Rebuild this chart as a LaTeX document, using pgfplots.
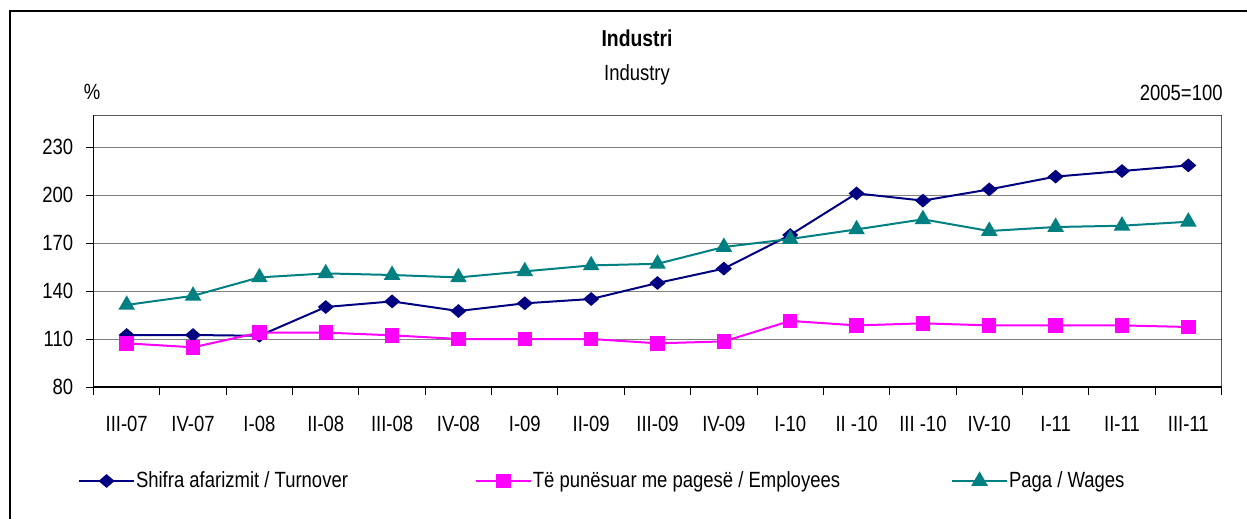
\documentclass[border=0pt]{standalone}
\usepackage{fontspec}
\setmainfont{Liberation Sans}[FakeStretch=0.84]
\usepackage{pgfplots}
\pgfplotsset{compat=1.18}

\definecolor{turnover}{RGB}{0,0,128}
\definecolor{employees}{RGB}{255,0,255}
\definecolor{wages}{RGB}{0,128,128}

\pgfplotstableread{
x turnover employees wages
0  112.5 107.3 131.3
1  112.5 104.8 137.0
2  112.0 114.0 148.5
3  130.0 114.0 151.0
4  133.5 112.3 150.0
5  127.5 110.0 148.5
6  132.3 110.0 152.3
7  135.0 110.0 156.0
8  145.0 107.3 157.0
9  154.0 108.5 167.5
10 175.0 121.3 172.5
11 201.0 118.5 178.5
12 196.5 119.8 184.8
13 203.5 118.5 177.5
14 211.5 118.5 180.0
15 215.0 118.5 180.8
16 218.5 117.5 183.3
}\industry

\begin{document}
\fontsize{11}{13}\selectfont
\begin{tikzpicture}
  \useasboundingbox (0pt,0pt) rectangle (623.5pt,-259.5pt);
  % outer frame, cut by the right and bottom edges
  \draw[line width=0.6pt] (5pt,-262pt) -- (5pt,-5.5pt) -- (626pt,-5.5pt);

  \node[anchor=base,font=\fontsize{11.5}{13}\selectfont\bfseries] at (318.5pt,-23.5pt) {Industri};
  \node[anchor=base] at (318.5pt,-40.5pt) {Industry};
  \node[anchor=base] at (46pt,-50pt) {\%};
  \node[anchor=base east,inner sep=0pt] at (611.5pt,-50.5pt) {2005=100};

  \begin{axis}[
    at={(46.75pt,-193.5pt)}, anchor=south west,
    scale only axis, width=564pt, height=136pt,
    xmin=-0.5, xmax=16.5, ymin=80, ymax=250,
    axis x line*=bottom, axis y line*=left,
    axis line style={-, black, line width=0.6pt},
    tick align=outside,
    major tick length=0pt, minor tick length=4pt,
    every tick/.style={black, line width=0.5pt},
    xtick={0,...,16},
    xticklabels={III-07,IV-07,I-08,II-08,III-08,IV-08,I-09,II-09,III-09,IV-09,I-10,II -10,III -10,IV-10,I-11,II-11,III-11},
    minor xtick={-0.5,0.5,...,16.5},
    ytick={80,110,...,230},
    minor ytick={80,110,...,230},
    ymajorgrids,
    major grid style={gray, line width=0.5pt},
    /pgf/number format/assume math mode=true,
    ticklabel style={font=\fontsize{11}{13}\selectfont, inner sep=0pt},
    xticklabel style={anchor=base, yshift=-22.35pt},
    yticklabel style={anchor=east, xshift=-10pt},
    every axis plot/.append style={line width=1pt},
    legend columns=3,
    legend style={at={(-0.0137,-0.3456)}, anchor=west, draw=none, fill=none,
      inner sep=0pt, outer sep=0pt,
      nodes={inner sep=0.5pt, anchor=west},
      /tikz/column 2/.style={column sep=63pt},
      /tikz/column 4/.style={column sep=55pt},
      font=\fontsize{11}{13}\selectfont},
    legend image code/.code={
      \draw[mark repeat=2,mark phase=2] plot coordinates {(0pt,0pt) (13.75pt,0pt) (27.5pt,0pt)};
    },
  ]
    \addplot[turnover, mark=diamond*, mark size=2.8pt, mark options={xscale=1.55}]
      table[x=x, y=turnover] {\industry};
    \addlegendentry{Shifra afarizmit / Turnover}
    \addplot[employees, mark=square*, mark size=3.1pt]
      table[x=x, y=employees] {\industry};
    \addlegendentry{Të punësuar me pagesë / Employees}
    \addplot[wages, mark=triangle*, mark size=3.8pt]
      table[x=x, y=wages] {\industry};
    \addlegendentry{Paga / Wages}

    \draw[gray!70!black, line width=0.5pt] (rel axis cs:0,1) -- (rel axis cs:1,1);
    \draw[black, line width=0.6pt] (rel axis cs:1,1) -- (rel axis cs:1,0);
  \end{axis}
\end{tikzpicture}
\end{document}
